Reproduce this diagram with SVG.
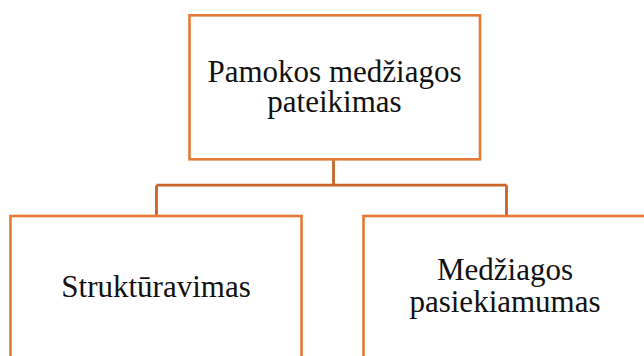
<svg xmlns="http://www.w3.org/2000/svg" width="644" height="356" viewBox="0 0 644 356">
<style>
.box{fill:#FFFFFF;stroke:#E57A36;stroke-width:2.6}
.conn{fill:none;stroke:#C8642A;stroke-width:2.8}
.t{font-family:"Liberation Serif","Times New Roman",serif;font-size:31px;fill:#111111;text-anchor:middle}
</style>
<rect width="644" height="356" fill="#FFFFFF"/>
<g id="connectors">
<path class="conn" d="M333.5,160 V185.2 M156.5,185.2 H506.5 M156.5,185.2 V216 M506.5,185.2 V216"/>
</g>
<g id="node-top">
<rect class="box" x="189.5" y="15.3" width="290.5" height="144"/>
<text class="t" x="334.5" y="82">Pamokos medžiagos</text>
<text class="t" x="334.5" y="112">pateikimas</text>
</g>
<g id="node-left">
<rect class="box" x="10.5" y="216" width="291" height="160"/>
<text class="t" x="156" y="297">Struktūravimas</text>
</g>
<g id="node-right">
<rect class="box" x="363.5" y="216" width="291" height="160"/>
<text class="t" x="505" y="280">Medžiagos</text>
<text class="t" x="505" y="311.5">pasiekiamumas</text>
</g>
</svg>
